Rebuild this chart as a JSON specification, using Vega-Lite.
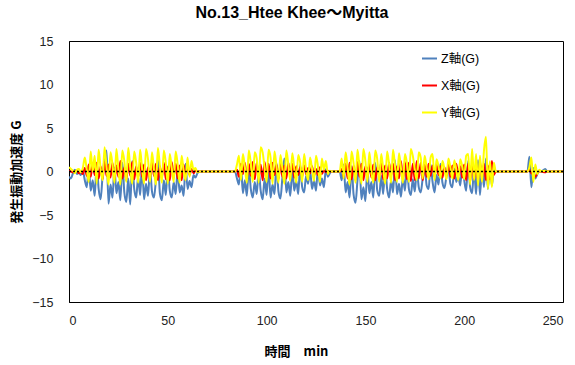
{
 "$schema": "https://vega.github.io/schema/vega-lite/v6.json",
 "width": 494, "height": 261,
 "autosize": {"type": "none"},
 "padding": {"left": 69, "top": 41, "right": 12, "bottom": 63},
 "background": "white",
 "title": {"text": "No.13_Htee Khee～Myitta", "fontSize": 16, "fontWeight": "bold", "font": "Liberation Sans, Noto Sans CJK JP", "color": "#000", "anchor": "middle", "dx": -24, "offset": 14},
 "config": {
  "view": {"stroke": "#000", "strokeWidth": 1},
  "axis": {"grid": false, "domainColor": "#000", "domainWidth": 1, "labelFont": "Liberation Sans", "labelFontSize": 12.5, "labelColor": "#222", "titleFont": "Noto Sans CJK JP", "titleFontSize": 13, "titleFontWeight": "bold", "titleColor": "#000", "ticks": false}
 },
 "datasets": {
  "d": [
   {"t":0,"Z軸(G)":-0.6,"X軸(G)":0.1,"Y軸(G)":0.5},
   {"t":1,"Z軸(G)":-0.8,"X軸(G)":0.0,"Y軸(G)":0.3},
   {"t":2,"Z軸(G)":-0.2,"X軸(G)":-0.1,"Y軸(G)":0.1},
   {"t":3,"Z軸(G)":0.2,"X軸(G)":0.0,"Y軸(G)":-0.2},
   {"t":4,"Z軸(G)":-0.3,"X軸(G)":0.1,"Y軸(G)":0.2},
   {"t":5,"Z軸(G)":-0.1,"X軸(G)":-0.2,"Y軸(G)":0.3},
   {"t":6,"Z軸(G)":-0.4,"X軸(G)":0.0,"Y軸(G)":-0.1},
   {"t":7,"Z軸(G)":0.1,"X軸(G)":-0.3,"Y軸(G)":0.4},
   {"t":8,"Z軸(G)":-1.0,"X軸(G)":0.4,"Y軸(G)":1.6},
   {"t":9,"Z軸(G)":-1.8,"X軸(G)":-0.5,"Y軸(G)":0.2},
   {"t":10,"Z軸(G)":0.5,"X軸(G)":0.8,"Y軸(G)":-1.2},
   {"t":11,"Z軸(G)":-2.2,"X軸(G)":-0.6,"Y軸(G)":2.3},
   {"t":12,"Z軸(G)":-1.0,"X軸(G)":0.9,"Y軸(G)":0.0},
   {"t":13,"Z軸(G)":-2.8,"X軸(G)":-0.4,"Y軸(G)":1.8},
   {"t":14,"Z軸(G)":0.8,"X軸(G)":1.0,"Y軸(G)":-1.4},
   {"t":15,"Z軸(G)":-2.0,"X軸(G)":-0.8,"Y軸(G)":2.5},
   {"t":16,"Z軸(G)":-3.2,"X軸(G)":0.6,"Y軸(G)":0.3},
   {"t":17,"Z軸(G)":-0.5,"X軸(G)":-0.9,"Y軸(G)":-1.0},
   {"t":18,"Z軸(G)":1.5,"X軸(G)":1.1,"Y軸(G)":2.8},
   {"t":19,"Z軸(G)":2.4,"X軸(G)":-0.5,"Y軸(G)":0.5},
   {"t":20,"Z軸(G)":-3.7,"X軸(G)":0.8,"Y軸(G)":-1.5},
   {"t":21,"Z軸(G)":-1.5,"X軸(G)":-0.7,"Y軸(G)":2.2},
   {"t":22,"Z軸(G)":-3.0,"X軸(G)":1.0,"Y軸(G)":0.8},
   {"t":23,"Z軸(G)":0.5,"X軸(G)":-1.0,"Y軸(G)":-1.3},
   {"t":24,"Z軸(G)":-2.5,"X軸(G)":0.7,"Y軸(G)":2.6},
   {"t":25,"Z軸(G)":-1.2,"X軸(G)":-0.6,"Y軸(G)":0.2},
   {"t":26,"Z軸(G)":-3.3,"X軸(G)":1.2,"Y軸(G)":-1.5},
   {"t":27,"Z軸(G)":1.0,"X軸(G)":-0.8,"Y軸(G)":2.4},
   {"t":28,"Z軸(G)":-2.4,"X軸(G)":0.5,"Y軸(G)":1.2},
   {"t":29,"Z軸(G)":-3.5,"X軸(G)":-1.0,"Y軸(G)":-1.2},
   {"t":30,"Z軸(G)":-0.8,"X軸(G)":0.9,"Y軸(G)":2.7},
   {"t":31,"Z軸(G)":-3.8,"X軸(G)":-0.5,"Y軸(G)":0.4},
   {"t":32,"Z軸(G)":1.2,"X軸(G)":1.1,"Y軸(G)":-1.4},
   {"t":33,"Z軸(G)":-2.0,"X軸(G)":-0.9,"Y軸(G)":2.3},
   {"t":34,"Z軸(G)":-3.0,"X軸(G)":0.6,"Y軸(G)":1.0},
   {"t":35,"Z軸(G)":-0.6,"X軸(G)":-0.7,"Y軸(G)":-1.3},
   {"t":36,"Z軸(G)":-2.7,"X軸(G)":1.0,"Y軸(G)":2.5},
   {"t":37,"Z軸(G)":0.8,"X軸(G)":-0.6,"Y軸(G)":0.3},
   {"t":38,"Z軸(G)":-3.2,"X軸(G)":0.8,"Y軸(G)":-1.4},
   {"t":39,"Z軸(G)":-1.4,"X軸(G)":-1.0,"Y軸(G)":2.6},
   {"t":40,"Z軸(G)":-2.8,"X軸(G)":0.5,"Y軸(G)":1.4},
   {"t":41,"Z軸(G)":0.4,"X軸(G)":-0.8,"Y軸(G)":-1.2},
   {"t":42,"Z軸(G)":-2.3,"X軸(G)":1.1,"Y軸(G)":2.2},
   {"t":43,"Z軸(G)":-3.0,"X軸(G)":-0.5,"Y軸(G)":0.2},
   {"t":44,"Z軸(G)":-0.9,"X軸(G)":0.9,"Y軸(G)":-1.5},
   {"t":45,"Z軸(G)":1.4,"X軸(G)":-1.0,"Y軸(G)":2.7},
   {"t":46,"Z軸(G)":-2.5,"X軸(G)":0.6,"Y軸(G)":0.6},
   {"t":47,"Z軸(G)":-3.3,"X軸(G)":-0.7,"Y軸(G)":-1.3},
   {"t":48,"Z軸(G)":-1.0,"X軸(G)":1.0,"Y軸(G)":2.4},
   {"t":49,"Z軸(G)":-2.7,"X軸(G)":-0.9,"Y軸(G)":1.0},
   {"t":50,"Z軸(G)":0.6,"X軸(G)":0.5,"Y軸(G)":-1.4},
   {"t":51,"Z軸(G)":-2.2,"X軸(G)":-1.0,"Y軸(G)":2.0},
   {"t":52,"Z軸(G)":-3.0,"X軸(G)":1.1,"Y軸(G)":0.4},
   {"t":53,"Z軸(G)":-1.2,"X軸(G)":-0.6,"Y軸(G)":-1.2},
   {"t":54,"Z軸(G)":-2.6,"X軸(G)":0.9,"Y軸(G)":2.3},
   {"t":55,"Z軸(G)":0.3,"X軸(G)":-0.8,"Y軸(G)":0.8},
   {"t":56,"Z軸(G)":-2.4,"X軸(G)":0.7,"Y軸(G)":-1.3},
   {"t":57,"Z軸(G)":-1.6,"X軸(G)":-1.0,"Y軸(G)":1.8},
   {"t":58,"Z軸(G)":-2.8,"X軸(G)":0.8,"Y軸(G)":0.1},
   {"t":59,"Z軸(G)":0.9,"X軸(G)":-0.5,"Y軸(G)":-1.0},
   {"t":60,"Z軸(G)":-2.0,"X軸(G)":0.6,"Y軸(G)":1.6},
   {"t":61,"Z軸(G)":-1.1,"X軸(G)":-0.4,"Y軸(G)":-0.6},
   {"t":62,"Z軸(G)":-1.8,"X軸(G)":0.3,"Y軸(G)":1.2},
   {"t":63,"Z軸(G)":-0.4,"X軸(G)":-0.2,"Y軸(G)":0.2},
   {"t":64,"Z軸(G)":-0.7,"X軸(G)":0.1,"Y軸(G)":0.4},
   {"t":65,"Z軸(G)":-0.2,"X軸(G)":0.0,"Y軸(G)":-0.1},
   {"t":66,"Z軸(G)":0,"X軸(G)":0,"Y軸(G)":0},
   {"t":84,"Z軸(G)":0,"X軸(G)":0,"Y軸(G)":0},
   {"t":85,"Z軸(G)":-0.8,"X軸(G)":0.2,"Y軸(G)":0.8},
   {"t":86,"Z軸(G)":-1.5,"X軸(G)":-0.6,"Y軸(G)":1.8},
   {"t":87,"Z軸(G)":0.8,"X軸(G)":0.9,"Y軸(G)":-1.0},
   {"t":88,"Z軸(G)":-2.5,"X軸(G)":-0.3,"Y軸(G)":2.0},
   {"t":89,"Z軸(G)":-1.0,"X軸(G)":1.0,"Y軸(G)":0.5},
   {"t":90,"Z軸(G)":-2.8,"X軸(G)":-0.8,"Y軸(G)":-1.3},
   {"t":91,"Z軸(G)":0.5,"X軸(G)":0.9,"Y軸(G)":2.4},
   {"t":92,"Z軸(G)":-2.0,"X軸(G)":-0.5,"Y軸(G)":1.0},
   {"t":93,"Z軸(G)":-3.0,"X軸(G)":1.1,"Y軸(G)":-1.2},
   {"t":94,"Z軸(G)":-1.2,"X軸(G)":-0.9,"Y軸(G)":2.2},
   {"t":95,"Z軸(G)":-2.6,"X軸(G)":1.0,"Y軸(G)":1.5},
   {"t":96,"Z軸(G)":0.2,"X軸(G)":-0.7,"Y軸(G)":-1.3},
   {"t":97,"Z軸(G)":-2.2,"X軸(G)":0.8,"Y軸(G)":2.8},
   {"t":98,"Z軸(G)":-3.2,"X軸(G)":-1.0,"Y軸(G)":2.2},
   {"t":99,"Z軸(G)":-0.8,"X軸(G)":1.1,"Y軸(G)":0.4},
   {"t":100,"Z軸(G)":-2.7,"X軸(G)":-0.6,"Y軸(G)":-1.2},
   {"t":101,"Z軸(G)":0.6,"X軸(G)":0.9,"Y軸(G)":2.5},
   {"t":102,"Z軸(G)":-3.0,"X軸(G)":-0.8,"Y軸(G)":1.6},
   {"t":103,"Z軸(G)":-1.5,"X軸(G)":1.0,"Y軸(G)":-1.4},
   {"t":104,"Z軸(G)":-2.6,"X軸(G)":-0.4,"Y軸(G)":2.3},
   {"t":105,"Z軸(G)":1.0,"X軸(G)":0.8,"Y軸(G)":0.6},
   {"t":106,"Z軸(G)":-2.3,"X軸(G)":-0.9,"Y軸(G)":-1.3},
   {"t":107,"Z軸(G)":-3.1,"X軸(G)":0.9,"Y軸(G)":1.9},
   {"t":108,"Z軸(G)":-0.7,"X軸(G)":-0.6,"Y軸(G)":0.3},
   {"t":109,"Z軸(G)":1.5,"X軸(G)":0.7,"Y軸(G)":-1.4},
   {"t":110,"Z軸(G)":-2.4,"X軸(G)":-0.8,"Y軸(G)":2.4},
   {"t":111,"Z軸(G)":-1.2,"X軸(G)":1.0,"Y軸(G)":0.8},
   {"t":112,"Z軸(G)":-2.8,"X軸(G)":-0.5,"Y軸(G)":-1.1},
   {"t":113,"Z軸(G)":0.4,"X軸(G)":0.9,"Y軸(G)":2.1},
   {"t":114,"Z軸(G)":-2.2,"X軸(G)":-0.7,"Y軸(G)":0.4},
   {"t":115,"Z軸(G)":-1.0,"X軸(G)":0.6,"Y軸(G)":-1.3},
   {"t":116,"Z軸(G)":-2.6,"X軸(G)":-0.4,"Y軸(G)":1.9},
   {"t":117,"Z軸(G)":0.8,"X軸(G)":0.5,"Y軸(G)":1.0},
   {"t":118,"Z軸(G)":-1.8,"X軸(G)":-0.6,"Y軸(G)":-1.2},
   {"t":119,"Z軸(G)":-2.4,"X軸(G)":0.7,"Y軸(G)":2.0},
   {"t":120,"Z軸(G)":-0.5,"X軸(G)":-0.3,"Y軸(G)":0.2},
   {"t":121,"Z軸(G)":-1.4,"X軸(G)":0.4,"Y軸(G)":-1.0},
   {"t":122,"Z軸(G)":0.2,"X軸(G)":-0.2,"Y軸(G)":1.6},
   {"t":123,"Z軸(G)":-2.0,"X軸(G)":0.6,"Y軸(G)":0.3},
   {"t":124,"Z軸(G)":-1.0,"X軸(G)":-0.5,"Y軸(G)":-1.1},
   {"t":125,"Z軸(G)":-2.2,"X軸(G)":0.3,"Y軸(G)":1.8},
   {"t":126,"Z軸(G)":0.5,"X軸(G)":-0.4,"Y軸(G)":0.6},
   {"t":127,"Z軸(G)":-1.6,"X軸(G)":0.5,"Y軸(G)":-1.2},
   {"t":128,"Z軸(G)":-0.8,"X軸(G)":-0.3,"Y軸(G)":1.5},
   {"t":129,"Z軸(G)":-1.8,"X軸(G)":0.2,"Y軸(G)":0.2},
   {"t":130,"Z軸(G)":0.3,"X軸(G)":-0.1,"Y軸(G)":1.2},
   {"t":131,"Z軸(G)":-0.6,"X軸(G)":0.1,"Y軸(G)":-0.3},
   {"t":132,"Z軸(G)":-0.2,"X軸(G)":0.0,"Y軸(G)":0.1},
   {"t":133,"Z軸(G)":0,"X軸(G)":0,"Y軸(G)":0},
   {"t":137,"Z軸(G)":0,"X軸(G)":0,"Y軸(G)":0},
   {"t":138,"Z軸(G)":-1.0,"X軸(G)":0.3,"Y軸(G)":1.5},
   {"t":139,"Z軸(G)":0.8,"X軸(G)":-0.6,"Y軸(G)":-0.8},
   {"t":140,"Z軸(G)":-2.4,"X軸(G)":0.9,"Y軸(G)":2.2},
   {"t":141,"Z軸(G)":-1.2,"X軸(G)":-0.8,"Y軸(G)":0.4},
   {"t":142,"Z軸(G)":-3.0,"X軸(G)":1.0,"Y軸(G)":-1.5},
   {"t":143,"Z軸(G)":0.6,"X軸(G)":-0.9,"Y軸(G)":2.3},
   {"t":144,"Z軸(G)":-2.6,"X軸(G)":0.7,"Y軸(G)":1.0},
   {"t":145,"Z軸(G)":-3.6,"X軸(G)":-1.0,"Y軸(G)":-1.3},
   {"t":146,"Z軸(G)":-1.0,"X軸(G)":1.1,"Y軸(G)":2.5},
   {"t":147,"Z軸(G)":1.2,"X軸(G)":-0.6,"Y軸(G)":0.5},
   {"t":148,"Z軸(G)":-3.2,"X軸(G)":0.9,"Y軸(G)":-1.4},
   {"t":149,"Z軸(G)":-1.8,"X軸(G)":-1.0,"Y軸(G)":2.6},
   {"t":150,"Z軸(G)":-3.4,"X軸(G)":0.6,"Y軸(G)":1.2},
   {"t":151,"Z軸(G)":0.4,"X軸(G)":-0.8,"Y軸(G)":-1.2},
   {"t":152,"Z軸(G)":-2.5,"X軸(G)":1.0,"Y軸(G)":2.2},
   {"t":153,"Z軸(G)":-1.2,"X軸(G)":-0.7,"Y軸(G)":0.0},
   {"t":154,"Z軸(G)":-3.0,"X軸(G)":0.8,"Y軸(G)":-1.3},
   {"t":155,"Z軸(G)":1.0,"X軸(G)":-1.0,"Y軸(G)":2.4},
   {"t":156,"Z軸(G)":-2.2,"X軸(G)":0.5,"Y軸(G)":1.4},
   {"t":157,"Z軸(G)":-2.8,"X軸(G)":-0.6,"Y軸(G)":-1.2},
   {"t":158,"Z軸(G)":-0.5,"X軸(G)":1.1,"Y軸(G)":2.0},
   {"t":159,"Z軸(G)":-2.6,"X軸(G)":-0.9,"Y軸(G)":0.3},
   {"t":160,"Z軸(G)":0.6,"X軸(G)":0.7,"Y軸(G)":-1.4},
   {"t":161,"Z軸(G)":-2.0,"X軸(G)":-0.8,"Y軸(G)":2.3},
   {"t":162,"Z軸(G)":-3.0,"X軸(G)":1.0,"Y軸(G)":0.8},
   {"t":163,"Z軸(G)":-1.0,"X軸(G)":-0.5,"Y軸(G)":-1.3},
   {"t":164,"Z軸(G)":-2.4,"X軸(G)":0.9,"Y軸(G)":2.5},
   {"t":165,"Z軸(G)":1.3,"X軸(G)":-1.0,"Y軸(G)":0.6},
   {"t":166,"Z軸(G)":-2.6,"X軸(G)":0.6,"Y軸(G)":-1.2},
   {"t":167,"Z軸(G)":-1.4,"X軸(G)":-0.8,"Y軸(G)":2.1},
   {"t":168,"Z軸(G)":-2.9,"X軸(G)":1.2,"Y軸(G)":0.4},
   {"t":169,"Z軸(G)":-0.6,"X軸(G)":-1.0,"Y軸(G)":-1.3},
   {"t":170,"Z軸(G)":-2.2,"X軸(G)":1.1,"Y軸(G)":2.0},
   {"t":171,"Z軸(G)":0.8,"X軸(G)":-0.9,"Y軸(G)":1.0},
   {"t":172,"Z軸(G)":-2.0,"X軸(G)":1.0,"Y軸(G)":-1.2},
   {"t":173,"Z軸(G)":-2.7,"X軸(G)":-1.1,"Y軸(G)":2.6},
   {"t":174,"Z軸(G)":-0.9,"X軸(G)":0.9,"Y軸(G)":1.8},
   {"t":175,"Z軸(G)":-2.3,"X軸(G)":-1.0,"Y軸(G)":0.2},
   {"t":176,"Z軸(G)":0.2,"X軸(G)":1.2,"Y軸(G)":-1.0},
   {"t":177,"Z軸(G)":-1.8,"X軸(G)":-0.8,"Y軸(G)":2.2},
   {"t":178,"Z軸(G)":-2.4,"X軸(G)":1.0,"Y軸(G)":1.6},
   {"t":179,"Z軸(G)":-0.8,"X軸(G)":-1.0,"Y軸(G)":-0.8},
   {"t":180,"Z軸(G)":0.5,"X軸(G)":0.8,"Y軸(G)":1.8},
   {"t":181,"Z軸(G)":-1.6,"X軸(G)":-0.6,"Y軸(G)":0.4},
   {"t":182,"Z軸(G)":-2.0,"X軸(G)":0.9,"Y軸(G)":-0.9},
   {"t":183,"Z軸(G)":0.8,"X軸(G)":-0.5,"Y軸(G)":1.6},
   {"t":184,"Z軸(G)":-1.2,"X軸(G)":0.7,"Y軸(G)":2.0},
   {"t":185,"Z軸(G)":-2.4,"X軸(G)":-0.6,"Y軸(G)":-1.0},
   {"t":186,"Z軸(G)":-0.4,"X軸(G)":0.8,"Y軸(G)":1.4},
   {"t":187,"Z軸(G)":-1.5,"X軸(G)":-0.4,"Y軸(G)":0.6},
   {"t":188,"Z軸(G)":0.9,"X軸(G)":0.6,"Y軸(G)":-0.8},
   {"t":189,"Z軸(G)":-1.3,"X軸(G)":-0.7,"Y軸(G)":1.2},
   {"t":190,"Z軸(G)":-1.9,"X軸(G)":0.5,"Y軸(G)":0.3},
   {"t":191,"Z軸(G)":-0.6,"X軸(G)":-0.5,"Y軸(G)":-0.9},
   {"t":192,"Z軸(G)":0.6,"X軸(G)":0.8,"Y軸(G)":1.5},
   {"t":193,"Z軸(G)":-1.4,"X軸(G)":-0.6,"Y軸(G)":0.5},
   {"t":194,"Z軸(G)":-1.8,"X軸(G)":0.7,"Y軸(G)":-0.8},
   {"t":195,"Z軸(G)":0.3,"X軸(G)":-0.8,"Y軸(G)":1.3},
   {"t":196,"Z軸(G)":-1.2,"X軸(G)":0.9,"Y軸(G)":0.2},
   {"t":197,"Z軸(G)":-0.5,"X軸(G)":-0.5,"Y軸(G)":-1.0},
   {"t":198,"Z軸(G)":-1.6,"X軸(G)":0.6,"Y軸(G)":1.4},
   {"t":199,"Z軸(G)":0.7,"X軸(G)":-0.7,"Y軸(G)":0.6},
   {"t":200,"Z軸(G)":-1.0,"X軸(G)":0.8,"Y軸(G)":-0.9},
   {"t":201,"Z軸(G)":-2.2,"X軸(G)":-1.0,"Y軸(G)":1.8},
   {"t":202,"Z軸(G)":1.2,"X軸(G)":0.9,"Y軸(G)":2.0},
   {"t":203,"Z軸(G)":-1.8,"X軸(G)":-1.2,"Y軸(G)":-1.5},
   {"t":204,"Z軸(G)":-2.5,"X軸(G)":1.0,"Y軸(G)":2.6},
   {"t":205,"Z軸(G)":0.4,"X軸(G)":-0.9,"Y軸(G)":-1.0},
   {"t":206,"Z軸(G)":-2.6,"X軸(G)":0.8,"Y軸(G)":2.0},
   {"t":207,"Z軸(G)":1.3,"X軸(G)":-1.1,"Y軸(G)":-1.6},
   {"t":208,"Z軸(G)":-2.7,"X軸(G)":1.1,"Y軸(G)":1.8},
   {"t":209,"Z軸(G)":0.6,"X軸(G)":-0.8,"Y軸(G)":-1.2},
   {"t":210,"Z軸(G)":-1.8,"X軸(G)":0.9,"Y軸(G)":2.4},
   {"t":211,"Z軸(G)":1.5,"X軸(G)":-1.0,"Y軸(G)":4.0},
   {"t":212,"Z軸(G)":-2.0,"X軸(G)":0.7,"Y軸(G)":-2.0},
   {"t":213,"Z軸(G)":0.8,"X軸(G)":-0.9,"Y軸(G)":1.2},
   {"t":214,"Z軸(G)":-1.6,"X軸(G)":1.2,"Y軸(G)":-1.8},
   {"t":215,"Z軸(G)":0.2,"X軸(G)":-0.4,"Y軸(G)":1.0},
   {"t":216,"Z軸(G)":0,"X軸(G)":0,"Y軸(G)":0},
   {"t":232,"Z軸(G)":0,"X軸(G)":0,"Y軸(G)":0},
   {"t":233,"Z軸(G)":1.7,"X軸(G)":0.2,"Y軸(G)":0.5},
   {"t":234,"Z軸(G)":-1.8,"X軸(G)":-0.2,"Y軸(G)":1.6},
   {"t":235,"Z軸(G)":0.4,"X軸(G)":-0.3,"Y軸(G)":-1.2},
   {"t":236,"Z軸(G)":-0.8,"X軸(G)":-0.6,"Y軸(G)":0.8},
   {"t":237,"Z軸(G)":-0.3,"X軸(G)":-0.2,"Y軸(G)":-0.3},
   {"t":238,"Z軸(G)":0.1,"X軸(G)":0.0,"Y軸(G)":0.2},
   {"t":239,"Z軸(G)":0,"X軸(G)":0,"Y軸(G)":0},
   {"t":241,"Z軸(G)":0.3,"X軸(G)":-0.1,"Y軸(G)":0.1},
   {"t":242,"Z軸(G)":0,"X軸(G)":0,"Y軸(G)":0},
   {"t":250,"Z軸(G)":0,"X軸(G)":0,"Y軸(G)":0}
  ]
 },
 "layer": [
  {
   "data": {"name": "d"},
   "transform": [{"fold": ["Z軸(G)", "X軸(G)", "Y軸(G)"], "as": ["系列", "値"]}],
   "mark": {"type": "line", "strokeWidth": 2, "clip": true, "interpolate": "monotone"},
   "encoding": {
    "x": {"field": "t", "type": "quantitative", "scale": {"domain": [0, 250], "nice": false},
          "axis": {"values": [0, 50, 100, 150, 200, 250], "title": "時間　min", "labelPadding": 12, "titleX": 227, "titleY": 43}},
    "y": {"field": "値", "type": "quantitative", "scale": {"domain": [-15, 15], "nice": false},
          "axis": {"values": [-15, -10, -5, 0, 5, 10, 15], "title": "発生振動加速度 G", "labelPadding": 16, "titlePadding": 8}},
    "color": {"field": "系列", "type": "nominal", "sort": null,
              "scale": {"domain": ["Z軸(G)", "X軸(G)", "Y軸(G)"], "range": ["#4f81bd", "#ff0000", "#ffff00"]},
              "legend": {"orient": "none", "legendX": 352, "legendY": 9, "title": null, "symbolType": "stroke", "symbolSize": 225, "symbolStrokeWidth": 2, "rowPadding": 12, "labelFontSize": 12.5, "labelFont": "Liberation Sans, Noto Sans CJK JP", "labelColor": "#000", "labelOffset": 3}}
   }
  },
  {
   "data": {"values": [{}]},
   "mark": {"type": "rule", "color": "#000", "strokeDash": [2, 2], "strokeWidth": 1.5},
   "encoding": {"y": {"datum": 0}}
  }
 ]
}
